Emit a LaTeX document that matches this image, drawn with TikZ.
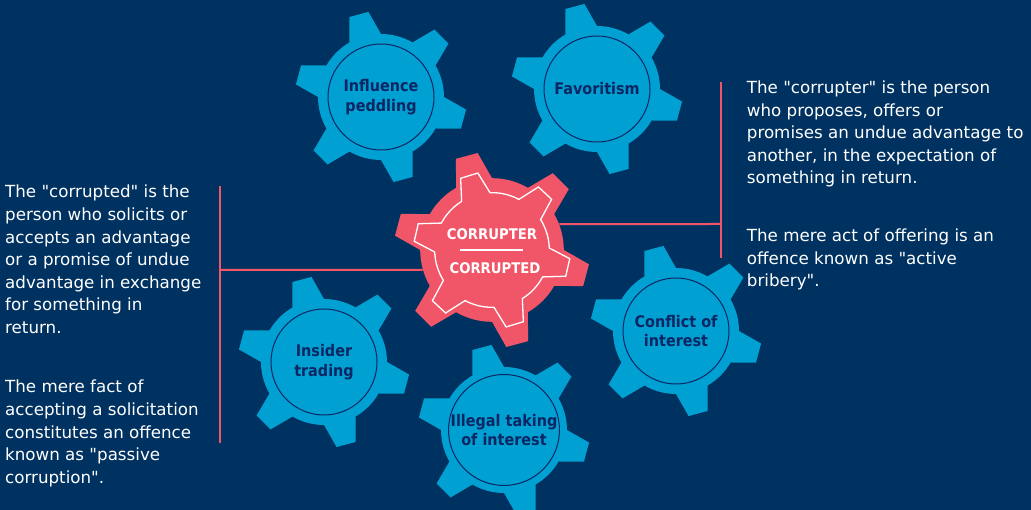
\documentclass[tikz,border=0pt]{standalone}
\usepackage{fontspec}
\setmainfont{DejaVu Sans}[Ligatures=TeXOff]
\newfontfamily\cogfont[FakeStretch=0.9]{DejaVu Sans}

\definecolor{navybg}{RGB}{0,50,97}
\definecolor{cogblue}{RGB}{0,160,210}
\definecolor{cogred}{RGB}{240,86,104}
\definecolor{cognavy}{RGB}{12,38,100}

\tikzset{
  pics/cog/.style={code={
    \path[pic actions] ({#1-15}:63)
      \foreach \k in {0,60,...,300}{
        -- ({#1+\k-6.6}:86) -- ({#1+\k+6.6}:86) -- ({#1+\k+15}:63)
        arc[start angle={#1+\k+15}, end angle={#1+\k+45}, radius=63]
      } -- cycle;
  }},
  hub/.style={circle, draw=cognavy, line width=1pt, minimum size=106pt,
    inner sep=0pt, align=center, text=cognavy,
    font=\cogfont\bfseries\fontsize{16}{19.5}\selectfont},
  corelabel/.style={inner sep=0pt, text=white,
    font=\cogfont\bfseries\fontsize{14.7}{16}\selectfont},
  % base of a note = baseline of its last line
  note/.style={anchor=base west, align=left, inner sep=0pt, text=white,
    font=\fontsize{16.7}{22.6}\selectfont},
  link/.style={draw=cogred, line width=2pt},
}

\begin{document}
\begin{tikzpicture}[x=1pt, y=1pt]
  \path[use as bounding box, clip] (0,0) rectangle (1031,510);
  \fill[navybg] (0,0) rectangle (1031,510);

  % blue cogs
  \pic[fill=cogblue] at (381,413) {cog=45};
  \pic[fill=cogblue] at (597,421) {cog=45};
  \pic[fill=cogblue] at (676,179) {cog=45};
  \pic[fill=cogblue] at (324,148) {cog=45};
  \pic[fill=cogblue] at (504,80) {cog=45};

  % red cog in the middle
  \pic[fill=cogred, scale=1.14] at (492,260) {cog=45};
  \pic[draw=white, line width=1.3pt, scale=0.91] at (492,260) {cog=47};

  \node[hub] (infl) at (381,413) {Influence\\peddling};
  \node[hub] (favo) at (597,421) {Favoritism};
  \node[hub] (confl) at (676,179) {Conflict of\\interest};
  \node[hub] (insider) at (324,148) {Insider\\trading};
  \node[hub] (illegal) at (504,80) {Illegal taking\\of interest};

  \node[circle, minimum size=144pt, inner sep=0pt] (core) at (492,260) {};
  \node[corelabel] (corrupter) at (492,276) {CORRUPTER};
  \node[corelabel] (corrupted) at (495,241.5) {CORRUPTED};
  \draw[white, line width=2pt] (460,260) -- (523,260);

  % texts
  \node[note] (corrupted note) at (5,176.4) {The "corrupted" is the\\
    person who solicits or\\accepts an advantage\\or a promise of undue\\
    advantage in exchange\\for something in\\return.};
  \node[note] (passive note) at (5,26.6) {The mere fact of\\
    accepting a solicitation\\constitutes an offence\\known as "passive\\
    corruption".};
  \node[note] (corrupter note) at (746.7,326) {The "corrupter" is the person\\
    who proposes, offers or\\promises an undue advantage to\\
    another, in the expectation of\\something in return.};
  \node[note] (active note) at (746.7,223) {The mere act of offering is an\\
    offence known as "active\\bribery".};

  % links
  \coordinate (ltop) at (220,324);
  \coordinate (lbot) at (220,67);
  \coordinate (ljoin) at (220,240);
  \coordinate (rtop) at (721,428);
  \coordinate (rbot) at (721,252);
  \coordinate (rjoin) at (721,286);
  \draw[link] (ltop) -- (lbot);
  \draw[link] (ljoin) -- (core.196);
  \draw[link] (rtop) -- (rbot);
  \draw[link] (core.21) -- (rjoin);
\end{tikzpicture}
\end{document}
